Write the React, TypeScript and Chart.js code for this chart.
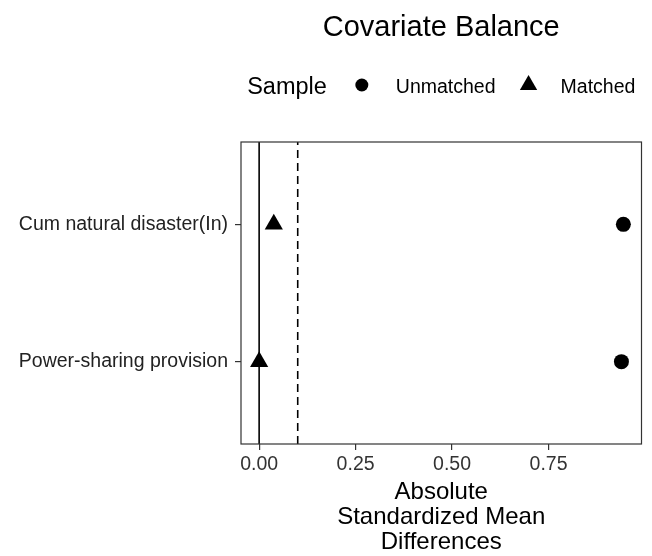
import React, { useEffect, useRef } from 'react';
import { Chart, registerables } from 'chart.js';

Chart.register(...registerables);

const TITLE = 'Covariate Balance';
const LEGEND_TITLE = 'Sample';
const SERIES_NAMES = ['Unmatched', 'Matched'];
const COVARIATES = ['Cum natural disaster(In)', 'Power-sharing provision'];
const UNMATCHED = [0.944, 0.939];
const MATCHED = [0.038, 0.0];
const X_TICKS = [0, 0.25, 0.5, 0.75];
const THRESHOLD_SOLID = 0;
const THRESHOLD_DASHED = 0.1;
const X_TITLE = ['Absolute', 'Standardized Mean', 'Differences'];

const FONT = '"Liberation Sans", Arial, Helvetica, sans-serif';
const X_MIN = -0.047;
const X_MAX = 0.991;
const Y_MIN = 0.4;
const Y_MAX = 2.6;

const yPos = (i: number) => COVARIATES.length - i;

const decorPlugin = {
  id: 'decor',
  afterDraw(chart: any) {
    const ctx = chart.ctx as CanvasRenderingContext2D;
    const { left, right, top, bottom } = chart.chartArea;
    const cx = (left + right) / 2;
    ctx.save();
    // panel border
    ctx.strokeStyle = '#333';
    ctx.lineWidth = 1.2;
    ctx.strokeRect(left, top, right - left, bottom - top);

    // title
    ctx.fillStyle = '#000';
    ctx.textBaseline = 'alphabetic';
    ctx.textAlign = 'center';
    ctx.font = `29px ${FONT}`;
    ctx.fillText(TITLE, cx, 36);

    // legend
    ctx.textAlign = 'left';
    ctx.font = `23.5px ${FONT}`;
    const w1 = ctx.measureText(LEGEND_TITLE).width;
    ctx.font = `19.5px ${FONT}`;
    const w2 = ctx.measureText(SERIES_NAMES[0]).width;
    const w3 = ctx.measureText(SERIES_NAMES[1]).width;
    const total = w1 + 35 + 34 + w2 + 33 + 32 + w3;
    let x = cx - total / 2;
    const symY = 85;
    ctx.font = `23.5px ${FONT}`;
    ctx.fillText(LEGEND_TITLE, x, 94);
    x += w1 + 35;
    ctx.beginPath();
    ctx.arc(x, symY, 6.5, 0, Math.PI * 2);
    ctx.fill();
    x += 34;
    ctx.font = `19.5px ${FONT}`;
    ctx.fillText(SERIES_NAMES[0], x, 92.5);
    x += w2 + 33;
    const r = 10;
    ctx.beginPath();
    ctx.moveTo(x, symY - r);
    ctx.lineTo(x + r * Math.sqrt(3) / 2, symY + r / 2);
    ctx.lineTo(x - r * Math.sqrt(3) / 2, symY + r / 2);
    ctx.closePath();
    ctx.fill();
    x += 32;
    ctx.fillText(SERIES_NAMES[1], x, 92.5);
    ctx.restore();
  },
};

export default function App() {
  const ref = useRef<HTMLCanvasElement | null>(null);

  useEffect(() => {
    if (!ref.current) return;
    const chart = new Chart(ref.current, {
      type: 'scatter',
      data: {
        datasets: [
          {
            label: SERIES_NAMES[0],
            data: UNMATCHED.map((v, i) => ({ x: v, y: yPos(i) })),
            pointStyle: 'circle',
            pointRadius: 7.5,
            backgroundColor: '#000',
            borderColor: '#000',
            borderWidth: 0,
            order: 0,
          },
          {
            label: SERIES_NAMES[1],
            data: MATCHED.map((v, i) => ({ x: v, y: yPos(i) })),
            pointStyle: 'triangle',
            pointRadius: 10.5,
            backgroundColor: '#000',
            borderColor: '#000',
            borderWidth: 0,
            order: 0,
          },
          {
            label: 'solid',
            data: [
              { x: THRESHOLD_SOLID, y: Y_MIN },
              { x: THRESHOLD_SOLID, y: Y_MAX },
            ],
            showLine: true,
            pointRadius: 0,
            borderColor: '#000',
            borderWidth: 1.6,
            order: 1,
          },
          {
            label: 'dashed',
            data: [
              { x: THRESHOLD_DASHED, y: Y_MIN },
              { x: THRESHOLD_DASHED, y: Y_MAX },
            ],
            showLine: true,
            pointRadius: 0,
            borderColor: '#000',
            borderWidth: 1.6,
            borderDash: [8, 5],
            order: 1,
          },
        ] as any,
      },
      options: {
        animation: false,
        responsive: false,
        maintainAspectRatio: false,
        devicePixelRatio: 1,
        layout: { padding: { top: 142, right: 8, left: 0, bottom: 0 } },
        plugins: {
          legend: { display: false },
          title: { display: false },
          tooltip: { enabled: false },
        },
        scales: {
          x: {
            type: 'linear',
            min: X_MIN,
            max: X_MAX,
            afterBuildTicks: (s: any) => {
              s.ticks = X_TICKS.map((v) => ({ value: v }));
            },
            afterFit: (s: any) => {
              s.height = 112;
            },
            grid: {
              drawOnChartArea: false,
              drawTicks: true,
              tickLength: 6,
              tickColor: '#333',
              lineWidth: 1.2,
            },
            border: { display: false },
            ticks: {
              font: { family: FONT, size: 19.5 },
              color: '#333',
              padding: 3,
              maxRotation: 0,
              autoSkip: false,
              callback: (v: any) => Number(v).toFixed(2),
            },
            title: {
              display: true,
              text: X_TITLE,
              color: '#000',
              font: { family: FONT, size: 24, lineHeight: 25 / 24 },
              padding: { top: 0, bottom: 1.5 },
            },
          },
          y: {
            type: 'linear',
            min: Y_MIN,
            max: Y_MAX,
            afterBuildTicks: (s: any) => {
              s.ticks = COVARIATES.map((_, i) => ({ value: yPos(i) }));
            },
            afterFit: (s: any) => {
              s.width = 241;
            },
            grid: {
              drawOnChartArea: false,
              drawTicks: true,
              tickLength: 6,
              tickColor: '#333',
              lineWidth: 1.2,
            },
            border: { display: false },
            ticks: {
              font: { family: FONT, size: 19.5 },
              color: '#222',
              padding: 7,
              autoSkip: false,
              callback: (v: any) => COVARIATES[COVARIATES.length - Number(v)] ?? '',
            },
          },
        },
      } as any,
      plugins: [decorPlugin],
    });
    return () => chart.destroy();
  }, []);

  return (
    <div style={{ position: 'absolute', left: 0, top: 0, width: 652, height: 556, background: '#fff' }}>
      <canvas ref={ref} width={652} height={556} style={{ display: 'block', width: 652, height: 556 }} />
    </div>
  );
}
